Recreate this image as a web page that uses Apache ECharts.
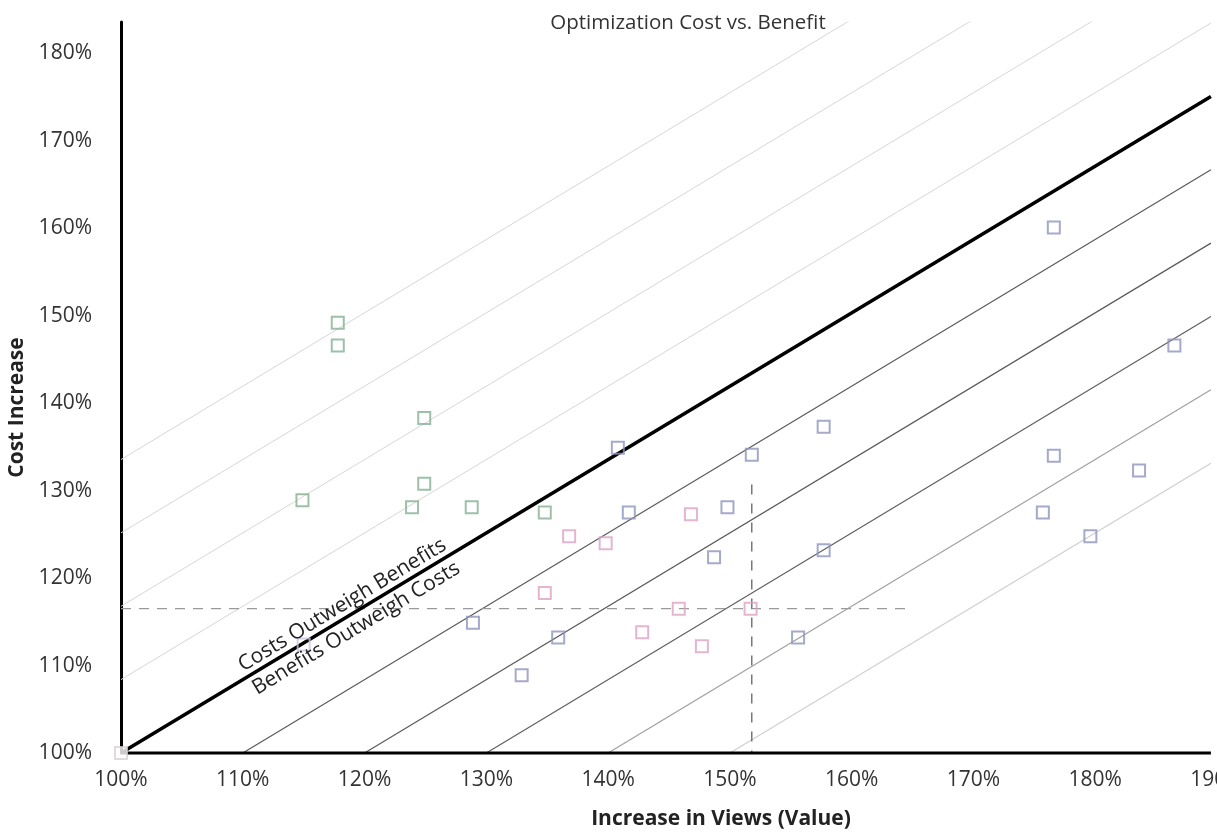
<!DOCTYPE html>
<html><head><meta charset="utf-8">
<script src="https://cdn.jsdelivr.net/npm/echarts@6/dist/echarts.min.js"></script>
<style>html,body{margin:0;padding:0;background:#fff}#c{width:1217px;height:836px}</style>
</head><body><div id="c"></div>
<script>
// ---- data ----
const titleText = 'Optimization Cost vs. Benefit';
const xAxisName = 'Increase in Views (Value)';
const yAxisName = 'Cost Increase';
const upperText = 'Costs Outweigh Benefits';
const lowerText = 'Benefits Outweigh Costs';

const greenPoints = [[117.8,149.2],[117.8,146.6],[124.9,138.3],[114.9,128.9],[124.9,130.8],[123.9,128.1],[128.8,128.1],[134.8,127.5]];
const bluePoints = [[176.6,160.1],[140.8,134.9],[151.8,134.1],[157.7,137.3],[141.7,127.5],[149.8,128.1],[148.7,122.4],[157.7,123.2],[186.5,146.6],[176.6,134.0],[183.6,132.3],[175.7,127.5],[179.6,124.8],[155.6,113.2],[128.9,114.9],[135.9,113.2],[132.9,108.9]];
const pinkPoints = [[136.8,124.8],[139.8,124.0],[146.8,127.3],[134.8,118.3],[145.8,116.5],[151.7,116.5],[142.8,113.8],[147.7,112.2]];
const originPoints = [[100,100]];
const faintPoints = [[115.0,112.4]];

// guide lines: cost = 100 + slope * (views - offset)
const slope = 0.839;
const upperOffsets = [60,70,80,90];
const breakEvenOffset = 100;
const lowerOffsets = [110,120,130,140,150];
const lowerColors = ['#5a5a5a','#5a5a5a','#5f5f5f','#a0a0a0','#cfcfcf'];
const hDashed = [[100,116.5],[164.7,116.5]];
const vDashed = [[151.8,130.7],[151.8,100]];

const X_MIN = 100, X_MAX = 190, X_END = 189.5, Y_MIN = 100, Y_MAX = 183.6;
const FONT = 'Open Sans';
const FS = 21;

function guide(offset){
  const x0 = Math.max(X_MIN, offset);
  return [[x0, 100 + slope*(x0-offset)], [X_END, 100 + slope*(X_END-offset)]];
}

const series = [];
upperOffsets.forEach(o => series.push({type:'line', data:guide(o), symbol:'none', silent:true, z:1,
  lineStyle:{color:'#d6d6d6', width:1}}));
lowerOffsets.forEach((o,i) => series.push({type:'line', data:guide(o), symbol:'none', silent:true, z:1,
  lineStyle:{color:lowerColors[i], width:1.2}}));
series.push({type:'line', data:hDashed, symbol:'none', silent:true, z:2, lineStyle:{color:'#9a9a9a', width:1.3, type:[10,8]}});
series.push({type:'line', data:vDashed, symbol:'none', silent:true, z:2, lineStyle:{color:'#555', width:1.2, type:[10,9]}});
series.push({type:'line', data:guide(breakEvenOffset), symbol:'none', silent:true, z:3, lineStyle:{color:'#000', width:3.5}});
series.push({type:'line', data:[[X_MIN,Y_MIN],[X_END,Y_MIN]], symbol:'none', silent:true, z:3, clip:false, lineStyle:{color:'#000', width:3}});
function pts(data, col, fill, z){
  return {type:'scatter', data, symbol:'rect', symbolSize:12, z:z||5, clip:false,
    itemStyle:{color:fill||'rgba(255,255,255,0)', borderColor:col, borderWidth:2}};
}
series.push(pts(greenPoints,'#86b096'));
series.push(pts(bluePoints,'#8e93bd'));
series.push(pts(pinkPoints,'#dca2c6'));
series.push(pts(faintPoints,'#cdc2e0'));
series.push(pts(originPoints,'#d8d2d6','#ffffff',6));

const chart = echarts.init(document.getElementById('c'), null, {renderer:'canvas'});
chart.setOption({
  animation:false,
  backgroundColor:'#fff',
  title:{text:titleText, left:683, top:8, textAlign:'center',
    textStyle:{fontFamily:FONT, fontSize:20.5, fontWeight:'normal', color:'#333'}},
  grid:{left:121, right:0, top:22, bottom:83, containLabel:false, outerBoundsMode:'none'},
  xAxis:{type:'value', min:X_MIN, max:X_MAX, interval:10,
    name:xAxisName, nameLocation:'middle', nameGap:56,
    nameTextStyle:{fontFamily:FONT, fontSize:FS, fontWeight:'bold', color:'#222', padding:[0,0,0,104]},
    axisLine:{show:false}, axisTick:{show:false}, splitLine:{show:false},
    axisLabel:{formatter:'{value}%', margin:17, fontFamily:FONT, fontSize:FS, color:'#333', showMaxLabel:true, hideOverlap:false}},
  yAxis:{type:'value', min:Y_MIN, max:Y_MAX, interval:10,
    name:yAxisName, nameLocation:'middle', nameGap:88,
    nameTextStyle:{fontFamily:FONT, fontSize:FS, fontWeight:'bold', color:'#222', padding:[0,40,0,0]},
    axisLine:{show:true, lineStyle:{color:'#000', width:3}}, axisTick:{show:false}, splitLine:{show:false},
    axisLabel:{formatter:'{value}%', margin:29, fontFamily:FONT, fontSize:FS, color:'#333', showMaxLabel:false}},
  series
});

// rotated region labels along the break-even line
const anchorX = 118.7;
const pA = chart.convertToPixel({gridIndex:0}, [anchorX, 100 + slope*(anchorX-breakEvenOffset)]);
const p1 = chart.convertToPixel({gridIndex:0}, guide(breakEvenOffset)[0]);
const p2 = chart.convertToPixel({gridIndex:0}, guide(breakEvenOffset)[1]);
const ang = Math.atan2(p1[1]-p2[1], p2[0]-p1[0]);
chart.setOption({graphic:[
  {type:'text', x:pA[0], y:pA[1], rotation:ang, z:10,
    style:{text:upperText, x:0, y:-2, align:'center', verticalAlign:'bottom', font:'21px "Open Sans"', fill:'#222'}},
  {type:'text', x:pA[0], y:pA[1], rotation:ang, z:10,
    style:{text:lowerText, x:0, y:4, align:'center', verticalAlign:'top', font:'21px "Open Sans"', fill:'#222'}}
]});
</script>
</body></html>
